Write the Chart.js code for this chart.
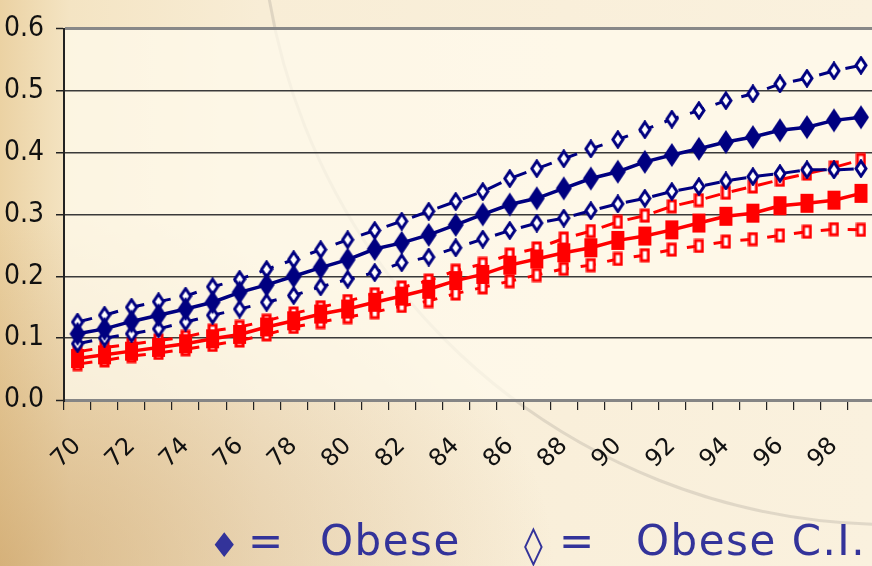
<!DOCTYPE html>
<html>
<head>
<meta charset="utf-8">
<script src="https://cdn.jsdelivr.net/npm/chart.js@4/dist/chart.umd.min.js"></script>
<style>
  html, body { margin: 0; padding: 0; overflow: hidden; width: 872px; height: 566px; }
  body {
    position: relative;
    background:
      radial-gradient(ellipse at 0% 100%, rgba(196,150,88,0.55), rgba(196,150,88,0) 45%),
      linear-gradient(to right, #ebd2a3 0%, #f4e4c3 8%, #f8edd6 30%, #faf1de 100%);
  }
  #arc {
    position: absolute; left: 259px; top: -738px; width: 1264px; height: 1264px;
    border-radius: 50%; border: 3px solid rgba(165,160,148,0.3); box-sizing: border-box;
  }
  #wrap { position: absolute; left: 0; top: 0; width: 886px; height: 566px; }
  .lg { position: absolute; top: 516px; color: #33339a; font-family: "DejaVu Sans", sans-serif; font-size: 42px; line-height: 50px; white-space: pre; letter-spacing: 1.5px; }
  .sym { font-size: 34px; letter-spacing: 0; }
</style>
</head>
<body>
<div id="arc"></div>
<div id="wrap"><canvas id="chart"></canvas></div>
<span class="lg sym" style="left:209px; top:520px;">♦</span>
<span class="lg" style="left:248px;">=</span>
<span class="lg" style="left:320px;">Obese</span>
<span class="lg sym" style="left:524px; top:520px; font-size:38px;">◊</span>
<span class="lg" style="left:559px;">=</span>
<span class="lg" style="left:636px;">Obese C.I.</span>
<script>
const ages = [];
for (let a = 70; a <= 99; a++) ages.push(String(a));

const obese = [0.107, 0.115, 0.127, 0.137, 0.147, 0.158, 0.174, 0.186, 0.200, 0.214, 0.227, 0.244, 0.254, 0.267, 0.283,
  0.300, 0.316, 0.326, 0.342, 0.358, 0.369, 0.385, 0.396, 0.406, 0.417, 0.425, 0.436, 0.441, 0.452, 0.457];
const obeseUpper = [0.126, 0.137, 0.150, 0.159, 0.168, 0.183, 0.195, 0.211, 0.227, 0.243, 0.259, 0.274, 0.289, 0.305, 0.321,
  0.337, 0.358, 0.374, 0.390, 0.406, 0.421, 0.437, 0.454, 0.468, 0.484, 0.495, 0.511, 0.520, 0.532, 0.541];
const obeseLower = [0.091, 0.100, 0.107, 0.115, 0.126, 0.137, 0.147, 0.158, 0.169, 0.183, 0.195, 0.206, 0.222, 0.231, 0.246,
  0.260, 0.274, 0.286, 0.294, 0.306, 0.317, 0.326, 0.337, 0.345, 0.354, 0.361, 0.366, 0.372, 0.372, 0.374];

const other = [0.067, 0.073, 0.079, 0.085, 0.091, 0.099, 0.106, 0.118, 0.128, 0.139, 0.147, 0.158, 0.168, 0.179, 0.193,
  0.203, 0.218, 0.228, 0.238, 0.246, 0.258, 0.265, 0.275, 0.286, 0.297, 0.302, 0.314, 0.318, 0.323, 0.334];
const otherUpper = [0.078, 0.085, 0.090, 0.096, 0.102, 0.112, 0.118, 0.128, 0.140, 0.150, 0.160, 0.171, 0.182, 0.193, 0.209,
  0.220, 0.235, 0.245, 0.261, 0.273, 0.288, 0.298, 0.313, 0.323, 0.335, 0.345, 0.356, 0.366, 0.376, 0.388];
const otherLower = [0.058, 0.064, 0.071, 0.076, 0.082, 0.089, 0.096, 0.106, 0.118, 0.126, 0.134, 0.142, 0.152, 0.160, 0.172,
  0.182, 0.192, 0.202, 0.212, 0.218, 0.228, 0.234, 0.243, 0.249, 0.256, 0.260, 0.266, 0.272, 0.276, 0.275];

const navy = '#000080';
const red = '#ff0000';

// marker images
function marker(shape, w, h, fill, stroke, lw) {
  const c = document.createElement('canvas');
  c.width = w + 4; c.height = h + 4;
  const g = c.getContext('2d');
  const cx = c.width / 2, cy = c.height / 2;
  g.beginPath();
  if (shape === 'diamond') {
    g.moveTo(cx, cy - h / 2); g.lineTo(cx + w / 2, cy); g.lineTo(cx, cy + h / 2); g.lineTo(cx - w / 2, cy);
  } else {
    g.rect(cx - w / 2, cy - h / 2, w, h);
  }
  g.closePath();
  g.fillStyle = fill; g.fill();
  if (lw) { g.lineWidth = lw; g.strokeStyle = stroke; g.stroke(); }
  return c;
}

const dSolid = marker('diamond', 16, 24, navy);
const dOpen = marker('diamond', 10, 15, '#ffffff', navy, 3);
const sSolid = marker('rect', 13, 19, red);
const sOpen = marker('rect', 7, 11, '#ffffff', red, 3);

function line(data, color, img, dashed) {
  return {
    data: data,
    borderColor: color,
    borderWidth: dashed ? 3 : 3.5,
    borderDash: dashed ? [15, 12] : [],
    pointStyle: img,
    pointRadius: 8,
    tension: 0,
    fill: false
  };
}

const plotBg = {
  id: 'plotBg',
  beforeDraw(chart) {
    const a = chart.chartArea, ctx = chart.ctx;
    ctx.save();
    ctx.fillStyle = 'rgba(255,251,237,0.72)';
    ctx.fillRect(a.left, a.top, a.right - a.left, a.bottom - a.top);
    ctx.restore();
  }
};

new Chart(document.getElementById('chart'), {
  type: 'line',
  plugins: [plotBg],
  data: {
    labels: ages,
    datasets: [
      line(obese, navy, dSolid, false),
      line(obeseUpper, navy, dOpen, true),
      line(obeseLower, navy, dOpen, true),
      line(other, red, sSolid, false),
      line(otherUpper, red, sOpen, true),
      line(otherLower, red, sOpen, true)
    ]
  },
  options: {
    responsive: true,
    maintainAspectRatio: false,
    animation: false,
    layout: { padding: { top: 22, left: 0, right: 0, bottom: 96 } },
    plugins: {
      legend: { display: false },
      tooltip: { enabled: false }
    },
    scales: {
      x: {
        offset: true,
        afterFit: function (s) { s.height = 70; s.paddingLeft = 0; s.paddingRight = 0; },
        border: { color: '#858585', width: 3 },
        grid: {
          offset: true,
          drawOnChartArea: false,
          tickLength: 10,
          color: '#222',
          lineWidth: 1.2
        },
        ticks: {
          autoSkip: false,
          minRotation: 45,
          maxRotation: 45,
          padding: 22,
          color: '#111',
          font: { family: 'DejaVu Sans', size: 24 },
          callback: function (v, i) { return i % 2 === 0 ? ages[i] : ''; }
        }
      },
      y: {
        min: 0,
        max: 0.6,
        afterFit: function (s) { s.width = 64; },
        border: { color: '#222', width: 2 },
        grid: {
          color: function (c) { return (c.tick.value > 0.55 || c.tick.value < 0.05) ? '#888' : '#3a3a3a'; },
          lineWidth: function (c) { return (c.tick.value > 0.55 || c.tick.value < 0.05) ? 3 : 1.5; },
          tickLength: 8,
          tickColor: '#222',
          tickWidth: 1.5
        },
        ticks: {
          stepSize: 0.1,
          padding: 12,
          color: '#111',
          font: { family: "'Liberation Sans Narrow', 'DejaVu Sans Condensed', 'Liberation Sans', sans-serif", size: 28 },
          callback: function (v) { return v.toFixed(1); }
        }
      }
    }
  }
});
</script>
</body>
</html>
